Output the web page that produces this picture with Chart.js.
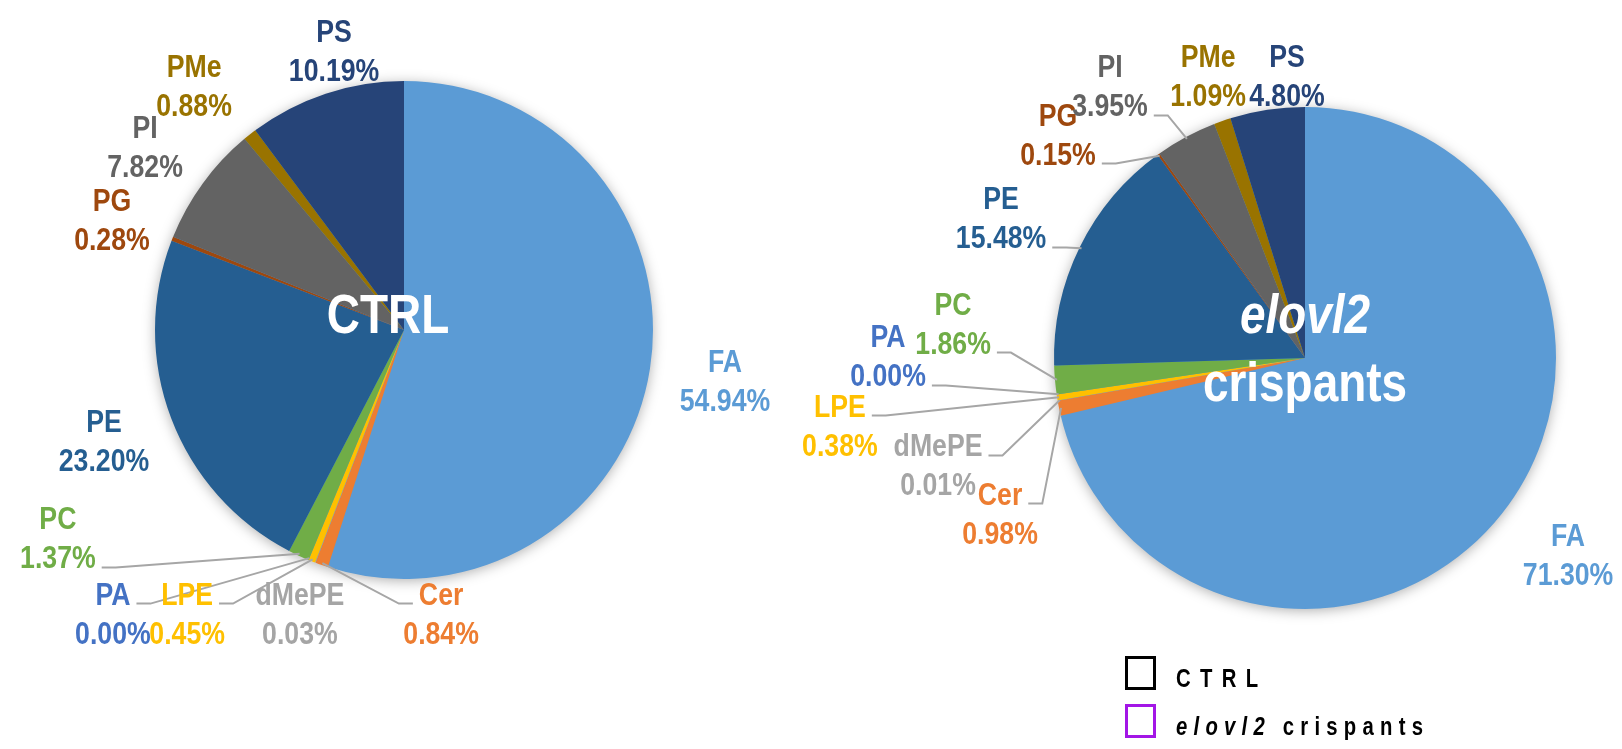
<!DOCTYPE html>
<html>
<head>
<meta charset="utf-8">
<script src="https://cdn.jsdelivr.net/npm/chart.js@4.4.1/dist/chart.umd.min.js"></script>
<style>
  html, body { margin: 0; padding: 0; background: #fff; }
  #wrap { position: relative; width: 1622px; height: 749px; overflow: hidden; }
  .pane { position: absolute; top: 0; height: 749px; }
  .key { position: absolute; box-sizing: border-box; width: 31px; height: 34px; border: 3px solid #000; }
  .keyText { position: absolute; font: bold 26px "Liberation Sans", Arial, sans-serif; line-height: 26px;
             white-space: pre; transform: scaleX(0.78); transform-origin: 0 0; color: #000; }
</style>
</head>
<body>
<div id="wrap">
  <div class="pane" style="left:0;width:800px"><canvas id="ctrlPie"></canvas></div>
  <div class="pane" style="left:800px;width:822px"><canvas id="crispPie"></canvas></div>

  <div class="key" style="left:1125px;top:656px;border-color:#000"></div>
  <div class="keyText" style="left:1176px;top:665px;letter-spacing:12px">CTRL</div>
  <div class="key" style="left:1125px;top:704px;border-color:#A316E6"></div>
  <div class="keyText" style="left:1176px;top:713px;letter-spacing:8px"><i>elovl2</i> crispants</div>
</div>

<script>
// lipid classes, in drawing order (clockwise from 12 o'clock)
const lipidClasses = ['FA', 'Cer', 'dMePE', 'LPE', 'PA', 'PC', 'PE', 'PG', 'PI', 'PMe', 'PS'];
const ctrlValues   = [54.94, 0.84, 0.03, 0.45, 0.00, 1.37, 23.20, 0.28, 7.82, 0.88, 10.19];
const crispValues  = [71.30, 0.98, 0.01, 0.38, 0.00, 1.86, 15.48, 0.15, 3.95, 1.09, 4.80];
const classColors  = ['#5B9BD5', '#ED7D31', '#A5A5A5', '#FFC000', '#4472C4', '#70AD47',
                      '#255E91', '#9E480E', '#636363', '#997300', '#264478'];

const FONT = '"Liberation Sans", Arial, sans-serif';
const LINE_GAP = 39;

function drawText(ctx, text, x, y, font, color, sx) {
  ctx.save();
  ctx.translate(x, y);
  ctx.scale(sx, 1);
  ctx.font = font;
  ctx.fillStyle = color;
  ctx.textAlign = 'center';
  ctx.textBaseline = 'alphabetic';
  ctx.fillText(text, 0, 0);
  ctx.restore();
}

function textWidth(ctx, text, font, sx) {
  ctx.save();
  ctx.font = font;
  const w = ctx.measureText(text).width * sx;
  ctx.restore();
  return w;
}

// shadow under the pie, labels with leader lines, and the title in the middle
const pieDecor = {
  id: 'pieDecor',
  beforeDatasetsDraw(chart) {
    const arc = chart.getDatasetMeta(0).data[0];
    const ctx = chart.ctx;
    ctx.save();
    ctx.shadowColor = 'rgba(0,0,0,0.35)';
    ctx.shadowBlur = 14;
    ctx.shadowOffsetY = 2;
    ctx.fillStyle = classColors[0];
    ctx.beginPath();
    ctx.arc(arc.x, arc.y, arc.outerRadius - 1, 0, Math.PI * 2);
    ctx.fill();
    ctx.restore();
  },
  afterDatasetsDraw(chart, args, opts) {
    const ctx = chart.ctx;
    const ds = chart.data.datasets[0];
    const labelFont = 'bold 31px ' + FONT;
    const sx = 0.86;
    const arcs = chart.getDatasetMeta(0).data;

    // leader lines first, text goes over them
    arcs.forEach((arc, i) => {
      const lead = opts.leaders[i];
      if (!lead) return;
      const R = arc.outerRadius;
      const [px, py] = opts.positions[i];
      const lx = arc.x + px * R, ly = arc.y + py * R;
      const lines = [chart.data.labels[i], ds.data[i].toFixed(2) + '%'];
      const [side, k] = lead;
      const dir = side === 'r' ? 1 : -1;
      const w = textWidth(ctx, lines[k], labelFont, sx);
      const y0 = ly + (k - 0.5) * LINE_GAP + 10;
      const x0 = lx + dir * (w / 2 + 6);
      const x1 = x0 + dir * 14;
      const mid = (arc.startAngle + arc.endAngle) / 2;
      const ax = arc.x + Math.cos(mid) * (R - 2);
      const ay = arc.y + Math.sin(mid) * (R - 2);
      ctx.save();
      ctx.strokeStyle = '#A6A6A6';
      ctx.lineWidth = 2;
      ctx.beginPath();
      ctx.moveTo(x0, y0);
      ctx.lineTo(x1, y0);
      ctx.lineTo(ax, ay);
      ctx.stroke();
      ctx.restore();
    });

    arcs.forEach((arc, i) => {
      const R = arc.outerRadius;
      const [px, py] = opts.positions[i];
      const lx = arc.x + px * R, ly = arc.y + py * R;
      const color = ds.backgroundColor[i];
      const lines = [chart.data.labels[i], ds.data[i].toFixed(2) + '%'];
      lines.forEach((t, k) => {
        drawText(ctx, t, lx, ly + (k - 0.5) * LINE_GAP + 11, labelFont, color, sx);
      });
    });

    // title inside the pie
    const a0 = arcs[0];
    opts.title.forEach(t => {
      const font = (t.italic ? 'italic ' : '') + 'bold 56px ' + FONT;
      drawText(ctx, t.text, a0.x + t.dx * a0.outerRadius, a0.y + t.dy * a0.outerRadius,
               font, '#ffffff', 0.82);
    });
  }
};

function makePie(id, values, padding, decor) {
  return new Chart(document.getElementById(id), {
    type: 'pie',
    data: {
      labels: lipidClasses,
      datasets: [{
        data: values,
        backgroundColor: classColors,
        borderWidth: 0,
        hoverBorderWidth: 0,
        hoverOffset: 0
      }]
    },
    options: {
      responsive: true,
      maintainAspectRatio: false,
      animation: false,
      events: [],
      layout: { padding: padding },
      plugins: {
        legend: { display: false },
        tooltip: { enabled: false },
        pieDecor: decor
      }
    },
    plugins: [pieDecor]
  });
}

// === CTRL ===
makePie('ctrlPie', ctrlValues, { left: 155, right: 147, top: 81, bottom: 170 }, {
  // label block centres, in units of the pie radius from the pie centre
  positions: [[1.289, 0.201], [0.149, 1.137], [-0.418, 1.137], [-0.871, 1.137], [-1.169, 1.137],
              [-1.390, 0.835], [-1.205, 0.442], [-1.173, -0.442], [-1.040, -0.735],
              [-0.843, -0.980], [-0.281, -1.124]],
  leaders: [null, ['l', 0], null, ['r', 0], ['r', 0], ['r', 1], null, null, null, null, null],
  title: [{ text: 'CTRL', dx: -0.064, dy: 0.012 }]
});

// === elovl2 crispants ===
makePie('crispPie', crispValues, { left: 254, right: 66, top: 107, bottom: 140 }, {
  positions: [[1.048, 0.781], [-1.215, 0.618], [-1.462, 0.426], [-1.853, 0.267], [-1.661, -0.008],
              [-1.402, -0.139], [-1.211, -0.558], [-0.984, -0.892], [-0.777, -1.084],
              [-0.386, -1.124], [-0.072, -1.124]],
  leaders: [null, ['r', 0], ['r', 0], ['r', 0], ['r', 1], ['r', 1], ['r', 1], ['r', 1], ['r', 1], null, null],
  title: [{ text: 'elovl2', italic: true, dx: 0, dy: -0.100 },
          { text: 'crispants', dx: 0, dy: 0.171 }]
});
</script>
</body>
</html>
